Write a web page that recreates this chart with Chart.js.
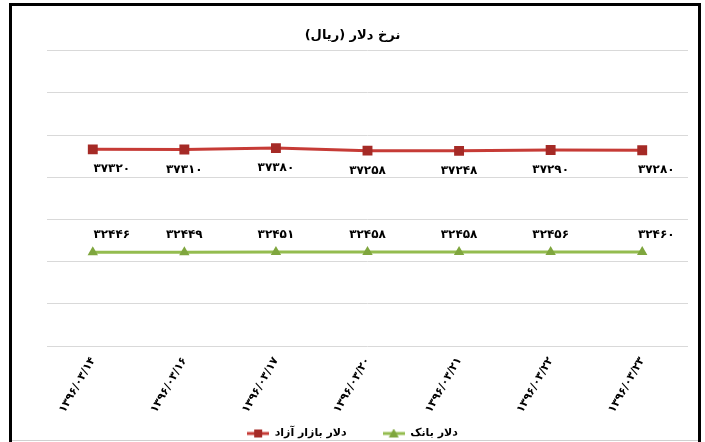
<!DOCTYPE html>
<html><head><meta charset="utf-8">
<script src="https://cdn.jsdelivr.net/npm/chart.js@4"></script>
<style>
html,body{margin:0;padding:0;background:#fff;}
#wrap{position:relative;width:705px;height:442px;overflow:hidden;background:#fff;}
#c{position:absolute;left:0;top:0;direction:rtl;}
#frame{position:absolute;left:9px;top:3px;width:686px;height:470px;border:3px solid #000;pointer-events:none;}
#base{position:absolute;left:12px;top:440px;width:686px;height:1px;background:#d0d0d0;}
</style></head><body>
<div id="wrap"><canvas id="c" dir="rtl" width="705" height="442"></canvas><div id="frame"></div><div id="base"></div></div>
<script>
const titleText = 'نرخ دلار (ریال)';
const categories = ['۱۳۹۶/۰۳/۱۴', '۱۳۹۶/۰۳/۱۶', '۱۳۹۶/۰۳/۱۷', '۱۳۹۶/۰۳/۲۰', '۱۳۹۶/۰۳/۲۱', '۱۳۹۶/۰۳/۲۲', '۱۳۹۶/۰۳/۲۳'];
const seriesNames = ['دلار بازار آزاد', 'دلار بانک'];
const freeMarket = [37320, 37310, 37380, 37258, 37248, 37290, 37280];
const bankRate = [32446, 32449, 32451, 32458, 32458, 32456, 32460];
const yMin = 28000, yMax = 42000, yStep = 2000;

const FONT = "'DejaVu Sans', sans-serif";
const RED = '#C63B36', RED_DARK = '#A52A26';
const GREEN = '#94BC4F', GREEN_DARK = '#7FA63E';

function fa(v){ return String(v).replace(/\d/g, d => '۰۱۲۳۴۵۶۷۸۹'[d]); }

function legendIcon(kind){
  const cv = document.createElement('canvas');
  cv.width = 22; cv.height = 10;
  const x = cv.getContext('2d');
  x.strokeStyle = kind === 'rect' ? RED : GREEN;
  x.lineWidth = 3;
  x.beginPath(); x.moveTo(0,5); x.lineTo(22,5); x.stroke();
  x.fillStyle = kind === 'rect' ? RED_DARK : GREEN_DARK;
  if (kind === 'rect') { x.fillRect(7,1,8,8); }
  else { x.beginPath(); x.moveTo(11,0); x.lineTo(16,9); x.lineTo(6,9); x.closePath(); x.fill(); }
  return cv;
}

const labelPlugin = {
  id: 'vlabels',
  afterLayout(chart){
    // let rotated x labels extend below the axis box without clipping
    chart.scales.x.bottom = chart.height;
  },
  afterDatasetsDraw(chart){
    const ctx = chart.ctx;
    ctx.save();
    ctx.font = 'bold 12px ' + FONT;
    ctx.fillStyle = '#000';
    ctx.textAlign = 'center';
    ctx.textBaseline = 'middle';
    chart.data.datasets.forEach((ds, di) => {
      const meta = chart.getDatasetMeta(di);
      meta.data.forEach((pt, i) => {
        let dx = 0;
        if (i === 0) dx = 19;
        else if (i === meta.data.length - 1) dx = 14;
        const dy = di === 0 ? 20 : -17;
        ctx.fillText(fa(ds.data[i]), pt.x + dx, pt.y + dy);
      });
    });
    ctx.restore();
  }
};

new Chart(document.getElementById('c'), {
  type: 'line',
  data: {
    labels: categories,
    datasets: [
      { label: seriesNames[0], data: freeMarket, borderColor: RED, backgroundColor: RED_DARK,
        borderWidth: 3, pointStyle: 'rect', pointRadius: 7, pointBackgroundColor: RED_DARK,
        pointBorderColor: RED_DARK, pointBorderWidth: 0, tension: 0 },
      { label: seriesNames[1], data: bankRate, borderColor: GREEN, backgroundColor: GREEN_DARK,
        borderWidth: 3, pointStyle: 'triangle', pointRadius: 6, pointBackgroundColor: GREEN_DARK,
        pointBorderColor: GREEN_DARK, pointBorderWidth: 0, tension: 0 }
    ]
  },
  options: {
    responsive: false,
    animation: false,
    events: [],
    layout: { padding: { left: 0, right: 0, top: 0, bottom: -7 } },
    plugins: {
      title: { display: true, text: titleText, color: '#000',
        font: { family: FONT, size: 13, weight: 'bold' }, padding: { top: 28, bottom: 7 } },
      legend: { position: 'bottom', rtl: false, textDirection: 'rtl',
        labels: { color: '#000', font: { family: FONT, size: 11, weight: 'bold' },
          usePointStyle: true, pointStyleWidth: 22, padding: 36,
          generateLabels(chart){
            return chart.data.datasets.map((ds, i) => ({
              text: ds.label, pointStyle: legendIcon(i === 0 ? 'rect' : 'tri'),
              fillStyle: ds.borderColor, strokeStyle: ds.borderColor, lineWidth: 0,
              hidden: false, datasetIndex: i, fontColor: '#000'
            }));
          } } },
      tooltip: { enabled: false }
    },
    scales: {
      x: { offset: true, grid: { display: false, drawTicks: false }, border: { display: false },
        ticks: { color: '#000', font: { family: FONT, size: 11, weight: 'bold' },
          minRotation: 60, maxRotation: 60, padding: 9, autoSkip: false },
        afterFit(s){ s.height = 46; } },
      y: { min: yMin, max: yMax, border: { display: false },
        grid: { color: '#D9D9D9', lineWidth: 1, drawTicks: false },
        ticks: { display: false, stepSize: yStep },
        afterFit(s){ s.width = 47; } },
      yR: { position: 'right', display: true, grid: { display: false, drawTicks: false }, border: { display: false },
        ticks: { display: false }, afterFit(s){ s.width = 17; } }
    }
  },
  plugins: [labelPlugin]
});
</script>
</body></html>
